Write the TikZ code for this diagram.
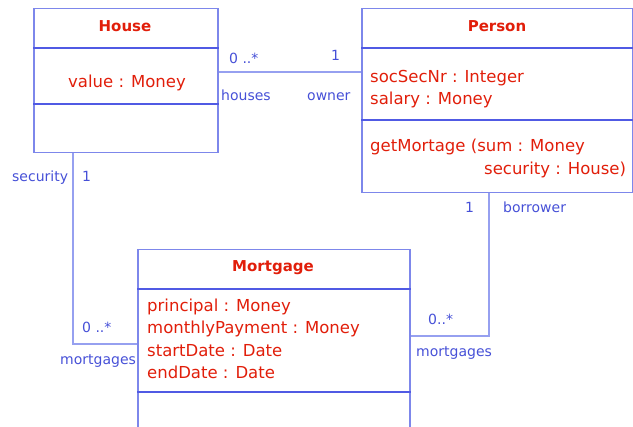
\documentclass[tikz,border=0pt]{standalone}
\usepackage{fontspec}
\setmainfont{DejaVu Sans}
\definecolor{boxblue}{RGB}{80,90,228}
\definecolor{edgeblue}{RGB}{125,135,235}
\definecolor{connblue}{RGB}{150,160,240}
\definecolor{lblblue}{RGB}{70,80,215}
\definecolor{txtred}{RGB}{225,30,10}
\begin{document}
\begin{tikzpicture}[x=1pt,y=-1pt,
 box/.style={draw=edgeblue,line width=1.5pt,rectangle,inner sep=0pt,anchor=north west},
 div/.style={draw=boxblue,line width=1.3pt},
 conn/.style={draw=connblue,line width=1.8pt},
 title/.style={text=txtred,font=\fontsize{15}{18}\selectfont\bfseries,anchor=base,inner sep=0pt},
 attr/.style={text=txtred,font=\fontsize{16.5}{22}\selectfont,anchor=base west,inner sep=0pt},
 lbl/.style={text=lblblue,font=\fontsize{14}{16}\selectfont,anchor=base west,inner sep=0pt}]
\useasboundingbox (0,0) rectangle (633,427);
% class boxes
\node[box,minimum width=184pt,minimum height=144pt] (house) at (33,8) {};
\node[box,minimum width=271pt,minimum height=184pt] (person) at (361,8) {};
\node[box,minimum width=272pt,minimum height=200pt] (mortgage) at (137,249) {};
% compartments
\draw[div] ([yshift=-40pt]house.north west) -- ([yshift=-40pt]house.north east);
\draw[div] ([yshift=-96pt]house.north west) -- ([yshift=-96pt]house.north east);
\draw[div] ([yshift=-40pt]person.north west) -- ([yshift=-40pt]person.north east);
\draw[div] ([yshift=-112pt]person.north west) -- ([yshift=-112pt]person.north east);
\draw[div] ([yshift=-40pt]mortgage.north west) -- ([yshift=-40pt]mortgage.north east);
\draw[div] ([yshift=-143pt]mortgage.north west) -- ([yshift=-143pt]mortgage.north east);
% titles
\node[title] (houseT) at (125,32) {House};
\node[title] (personT) at (497,32) {Person};
\node[title] (mortT) at (273,272) {Mortgage};
% attributes and operations
\node[attr,anchor=base] (hval) at (127,88) {value : Money};
\node[attr] (pssn) at (370,83) {socSecNr : Integer};
\node[attr] (psal) at (370,105) {salary : Money};
\node[attr] (pget) at (370,152) {getMortage (sum : Money};
\node[attr] (psec) at (484,175) {security : House)};
\node[attr] (mpri) at (147,312) {principal : Money};
\node[attr] (mmon) at (147,334) {monthlyPayment : Money};
\node[attr] (msta) at (147,357) {startDate : Date};
\node[attr] (mend) at (147,379) {endDate : Date};
% connectors
\draw[conn] (house.east |- 0,72) -- (person.west |- 0,72);
\draw[conn] (house.south -| 73,0) |- (mortgage.west |- 0,344);
\draw[conn] (person.south -| 489,0) |- (mortgage.east |- 0,336);
% association labels
\node[lbl] (l1) at (229,64) {0 ..*};
\node[lbl] (l2) at (331,61) {1};
\node[lbl] (l3) at (221,101) {houses};
\node[lbl] (l4) at (307,101) {owner};
\node[lbl] (l5) at (12,182) {security};
\node[lbl] (l6) at (82,182) {1};
\node[lbl] (l7) at (82,333) {0 ..*};
\node[lbl] (l8) at (60,365) {mortgages};
\node[lbl] (l9) at (465,213) {1};
\node[lbl] (l10) at (503,213) {borrower};
\node[lbl] (l11) at (428,325) {0..*};
\node[lbl] (l12) at (416,357) {mortgages};
\end{tikzpicture}
\end{document}
